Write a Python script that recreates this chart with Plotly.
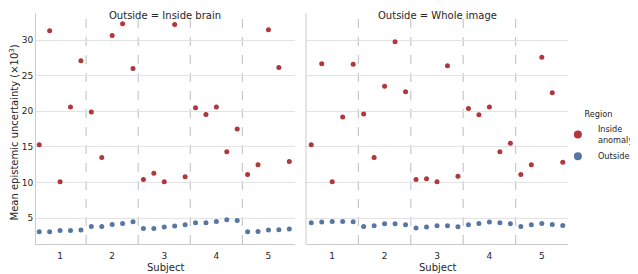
import plotly.graph_objects as go

subjects = [1, 2, 3, 4, 5]
offsets = [-0.4, -0.2, 0.0, 0.2, 0.4]

# Outside = Inside brain
brain_inside = [
    [15.3, 31.3, 10.1, 20.6, 27.1],
    [19.9, 13.5, 30.65, 32.3, 26.0],
    [10.4, 11.3, 10.1, 32.2, 10.8],
    [20.5, 19.55, 20.6, 14.3, 17.5],
    [11.1, 12.5, 31.45, 26.15, 12.95],
]
brain_outside = [
    [3.08, 3.08, 3.26, 3.26, 3.3],
    [3.82, 3.82, 4.1, 4.24, 4.48],
    [3.54, 3.54, 3.74, 3.88, 4.06],
    [4.34, 4.34, 4.52, 4.76, 4.66],
    [3.08, 3.12, 3.3, 3.35, 3.45],
]
# Outside = Whole image
whole_inside = [
    [15.3, 26.67, 10.1, 19.2, 26.6],
    [19.6, 13.5, 23.5, 29.76, 22.74],
    [10.4, 10.5, 10.1, 26.4, 10.85],
    [20.4, 19.5, 20.6, 14.3, 15.5],
    [11.1, 12.5, 27.6, 22.6, 12.85],
]
whole_outside = [
    [4.34, 4.43, 4.52, 4.52, 4.48],
    [3.82, 3.9, 4.2, 4.2, 4.06],
    [3.6, 3.74, 3.9, 3.9, 3.78],
    [4.06, 4.24, 4.43, 4.34, 4.2],
    [3.82, 4.06, 4.24, 4.1, 3.96],
]
err_inside = 0.25
err_outside = 0.12

panel_titles = ["Outside = Inside brain", "Outside = Whole image"]
region_names = ["Inside<br>anomaly", "Outside"]
colors = ["#b0373c", "#5876a4"]
y_title = "Mean epistemic uncertainty (×10<sup>3</sup>)"
x_title = "Subject"

FONT = "DejaVu Sans"
TXT = "#262626"

fig = go.Figure()


def flat(vals):
    xs, ys = [], []
    for s, row in zip(subjects, vals):
        for o, v in zip(offsets, row):
            xs.append(s + o)
            ys.append(v)
    return xs, ys


panels = [(brain_inside, brain_outside), (whole_inside, whole_outside)]
for pi, (ins, outs) in enumerate(panels):
    xa = "x" if pi == 0 else "x2"
    for ri, (vals, err) in enumerate([(ins, err_inside), (outs, err_outside)]):
        xs, ys = flat(vals)
        fig.add_trace(go.Scatter(
            x=xs, y=ys, mode="markers", xaxis=xa, yaxis="y",
            marker=dict(color=colors[ri], size=5, symbol="circle"),
            error_y=dict(type="constant", value=err, color=colors[ri], thickness=1, width=0),
            showlegend=False, hoverinfo="skip"))

for ri in range(2):
    fig.add_trace(go.Scatter(
        x=[None], y=[None], mode="markers",
        marker=dict(color=colors[ri], size=8),
        name=region_names[ri], showlegend=True))

# page is offset by the 8px body margin, so the figure is 8px smaller
W, H = 630, 266
L, R, T, B = 28, 70, 5, 30
pw = W - L - R
ph = H - T - B
d1 = (286.5 - L) / pw
d2 = (298 - L) / pw

axis_common = dict(
    tickvals=subjects, ticktext=[str(s) for s in subjects],
    showgrid=False, zeroline=False, showline=True, linecolor="#cccccc", linewidth=1,
    ticks="outside", ticklen=3, tickcolor="rgba(0,0,0,0)",
    tickfont=dict(family=FONT, size=9, color=TXT), automargin=False,
)

fig.update_layout(
    width=W, height=H,
    margin=dict(l=L, r=R, t=T, b=B, autoexpand=False),
    paper_bgcolor="white", plot_bgcolor="white",
    font=dict(family=FONT, color=TXT),
    xaxis=dict(domain=[0, d1], range=[0.538, 5.5], **axis_common),
    xaxis2=dict(domain=[d2, 1], range=[0.5, 5.5], **axis_common),
    yaxis=dict(range=[1.35, 33.8], tickvals=[5, 10, 15, 20, 25, 30],
               showgrid=True, gridcolor="#e3e3e3", gridwidth=1, zeroline=False,
               showline=True, linecolor="#cccccc", ticks="", automargin=False,
               tickfont=dict(family=FONT, size=9, color=TXT)),
    legend=dict(x=0.981, y=0.594, xanchor="left", yanchor="top",
                title=dict(text="Region", side="top center",
                           font=dict(family=FONT, size=8.2, color=TXT)),
                font=dict(family=FONT, size=8.2, color=TXT),
                bgcolor="rgba(0,0,0,0)", tracegroupgap=4),
    showlegend=True,
)

# second panel's y-axis line (shared y)
fig.add_shape(type="line", xref="x2 domain", yref="y domain", x0=0, x1=0, y0=0, y1=1,
              line=dict(color="#cccccc", width=1))

for xa in ["x", "x2"]:
    for b in [1.5, 2.5, 3.5, 4.5]:
        fig.add_shape(type="line", xref=xa, yref="y domain", x0=b, x1=b, y0=0, y1=1,
                      line=dict(color="#c8c8c8", width=1.2, dash="dash"), layer="below")

for pi, t in enumerate(panel_titles):
    dom = [0, d1] if pi == 0 else [d2, 1]
    fig.add_annotation(text=t, xref="paper", yref="paper", x=(dom[0] + dom[1]) / 2,
                       y=1 + T / ph, yanchor="top", xanchor="center", showarrow=False,
                       font=dict(family=FONT, size=10, color=TXT))
    fig.add_annotation(text=x_title, xref="paper", yref="paper", x=(dom[0] + dom[1]) / 2,
                       y=0, yshift=-23, yanchor="middle", xanchor="center", showarrow=False,
                       font=dict(family=FONT, size=10, color=TXT))

fig.add_annotation(text=y_title, xref="paper", yref="paper", x=0, xshift=-(L - 5),
                   y=0.5, yshift=-4, xanchor="center", yanchor="middle", textangle=-90,
                   showarrow=False, font=dict(family=FONT, size=10, color=TXT))

fig.write_html("out.html")
